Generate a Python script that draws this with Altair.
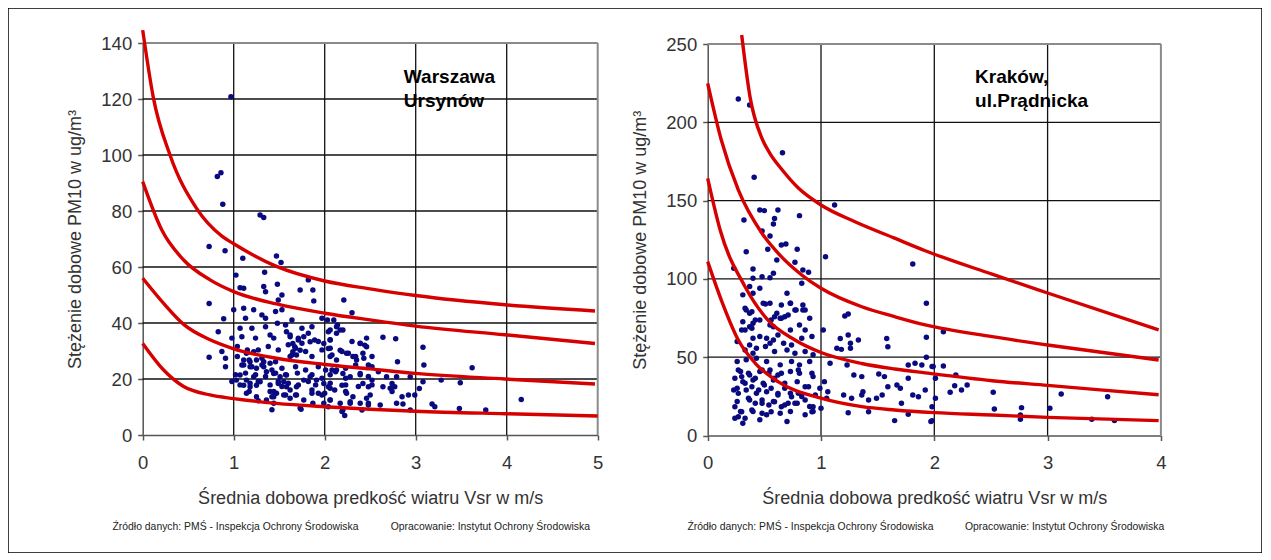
import altair as alt
import pandas as pd

# ---------------- data: Warszawa Ursynów ----------------
waw_points = [
    (0.97, 120.8), (0.82, 92.3), (0.86, 93.7), (0.88, 82.4), (1.29, 78.6), (1.33, 77.7),
    (0.73, 67.3), (0.905, 65.8), (1.10, 63.1), (1.47, 63.9), (1.52, 61.6), (1.025, 57.1),
    (1.34, 58.1), (1.82, 55.4), (1.48, 53.8), (2.3, 43.7), (0.73, 47.0), (0.73, 27.8),
    (1.07, 52.6), (1.11, 52.4), (1.33, 53.0), (1.35, 51.2), (1.49, 48.2), (1.53, 50.0),
    (1.73, 51.8), (1.87, 51.8), (1.88, 47.9), (2.21, 48.2),
    (1.0, 44.7), (1.11, 45.3), (1.22, 44.7), (1.31, 42.9), (1.13, 41.7), (0.89, 41.5),
    (1.35, 41.7), (1.46, 44.1), (1.53, 44.7), (1.64, 41.1), (1.97, 41.7), (2.03, 41.1),
    (2.14, 39.3), (2.17, 37.5),
    (0.83, 36.9), (1.07, 38.1), (1.2, 38.1), (1.35, 38.7), (1.48, 39.9), (1.57, 39.3),
    (1.75, 38.1), (1.86, 38.7), (2.04, 36.9), (1.09, 35.1), (0.98, 34.6), (1.24, 34.6),
    (1.4, 35.7), (1.44, 34.6), (1.62, 35.7), (1.71, 34.6), (1.82, 36.3), (1.93, 33.4),
    (2.06, 34.0), (2.3, 33.4), (2.39, 32.8), (2.46, 34.6),
    (0.87, 29.8), (1.04, 31.6), (1.15, 30.4), (1.27, 30.4), (1.38, 31.6), (1.49, 30.4),
    (1.6, 32.2), (1.68, 31.0), (1.75, 32.8), (1.64, 28.6), (1.79, 29.8), (1.86, 28.0),
    (1.97, 30.4), (2.06, 31.0), (2.08, 28.6), (2.19, 29.8), (2.26, 29.2), (2.34, 28.0),
    (1.04, 28.0), (1.17, 26.8), (1.31, 27.4), (1.46, 26.2), (0.91, 27.4), (2.52, 28.0),
    (2.48, 25.0),
    (1.09, 25.0), (1.2, 24.4), (1.31, 25.0), (1.42, 23.2), (1.53, 23.8), (1.68, 24.4),
    (1.79, 23.2), (1.93, 24.4), (2.01, 23.2), (2.12, 22.6), (2.23, 23.8), (2.34, 25.0),
    (0.91, 24.4), (1.02, 21.5), (1.13, 22.1), (1.24, 21.5), (1.35, 20.9), (1.46, 22.1),
    (1.57, 21.5), (1.7, 22.1), (1.86, 21.5), (1.97, 20.3), (2.06, 21.5), (2.23, 20.3),
    (2.39, 21.5), (2.48, 20.9), (2.59, 22.6), (0.98, 19.1),
    (1.07, 17.9), (1.18, 18.5), (1.27, 19.1), (1.4, 17.9), (1.49, 19.1), (1.53, 17.3),
    (1.6, 18.5), (1.71, 17.9), (1.82, 19.1), (1.9, 17.9), (2.06, 18.5), (2.23, 17.9),
    (2.37, 17.3), (2.52, 17.9), (1.17, 15.5), (1.44, 15.5), (1.57, 14.3), (1.68, 14.3),
    (1.86, 14.9), (1.97, 14.3), (2.06, 12.5), (2.23, 15.5), (2.5, 14.3), (1.42, 13.7),
    (1.27, 12.2), (1.44, 11.3), (1.73, 9.6), (2.04, 10.1), (2.28, 11.9), (2.19, 8.4),
    (2.48, 10.7), (1.42, 9.0), (1.74, 9.2), (2.22, 7.0),
    (2.44, 32.1), (2.64, 34.9), (2.78, 34.4), (2.43, 27.4), (2.52, 24.4), (2.8, 26.2),
    (3.08, 31.3), (3.09, 25.0), (2.52, 19.6), (2.68, 20.8), (2.79, 20.8), (2.64, 17.2),
    (2.72, 16.7), (2.74, 18.4), (2.77, 17.2), (2.74, 15.5), (2.48, 11.3), (2.61, 10.7),
    (2.79, 11.3), (2.86, 11.1), (2.85, 13.7), (2.92, 14.3), (2.99, 14.3), (2.94, 8.9),
    (2.41, 8.9), (3.04, 16.6), (3.08, 19.0), (3.28, 19.6), (3.49, 18.7), (3.62, 24.0),
    (3.18, 11.1), (3.21, 10.1), (3.48, 9.5), (3.77, 8.9), (4.16, 12.7), (2.94, 20.8),
    (1.14, 29.2), (1.22, 29.7), (1.11, 26.8), (1.18, 26.2), (1.25, 26.8), (1.33, 26.2),
    (1.4, 25.6), (1.11, 25.0), (1.18, 24.4), (1.25, 23.8), (1.33, 24.4), (1.36, 22.6),
    (1.44, 22.0), (1.51, 20.8), (1.58, 21.4), (1.55, 19.0), (1.49, 18.4), (1.58, 17.2),
    (1.62, 16.1), (1.69, 17.2), (1.77, 19.6), (1.84, 20.8), (1.91, 19.6), (1.99, 18.4),
    (2.04, 17.2), (1.86, 16.1), (1.93, 14.9), (2.0, 14.9), (2.06, 16.7), (2.11, 16.1),
    (2.19, 17.8), (2.24, 14.9), (2.31, 13.7), (2.39, 11.3), (2.46, 13.1), (2.28, 11.3),
    (2.2, 8.9), (2.17, 11.3), (2.06, 12.5), (1.99, 11.3), (1.87, 11.3), (1.77, 12.5),
    (1.69, 14.3), (1.62, 13.1), (1.55, 14.3), (1.47, 14.9), (1.4, 15.5), (1.44, 13.7),
    (1.36, 12.5), (1.25, 13.7), (1.18, 17.2), (1.11, 17.8), (1.03, 19.6), (1.07, 21.4),
    (1.14, 19.6), (1.22, 20.8), (1.29, 19.0), (1.14, 14.9), (1.25, 17.8),
    (2.06, 28.0), (2.13, 26.8), (2.17, 30.3), (2.24, 29.2), (2.31, 28.0), (2.35, 26.8),
    (2.42, 29.2), (2.46, 31.5), (2.39, 32.7), (2.06, 37.5), (2.13, 36.3), (2.2, 37.5),
    (2.1, 41.1), (2.13, 38.7), (2.06, 33.9), (1.99, 32.7), (2.04, 30.9), (2.08, 23.2),
    (2.13, 23.2), (2.2, 22.0), (2.28, 20.8), (2.39, 22.0), (2.42, 18.4), (2.48, 17.2),
    (1.58, 36.9), (1.62, 35.1), (1.65, 32.7), (1.71, 33.9), (1.77, 35.1), (1.84, 33.3),
    (1.89, 33.9), (1.67, 31.5), (1.73, 30.3), (1.65, 29.7), (1.62, 28.0), (1.69, 28.6),
]

waw_curve_x = {
    "A": [0, 0.117, 0.30, 0.59, 0.87, 1.0, 1.47, 2.0, 2.5, 3.0, 3.98, 4.97],
    "B": [0, 0.21, 0.45, 0.74, 1.0, 1.47, 2.0, 2.5, 3.0, 3.98, 4.97],
    "C": [0, 0.23, 0.45, 0.74, 1.0, 1.47, 2.0, 2.5, 3.0, 3.98, 4.97],
    "D": [0, 0.23, 0.45, 0.74, 1.0, 1.47, 2.0, 2.5, 3.0, 3.98, 5.0],
}
waw_curve_y = {
    "A": [144.6, 120.5, 100.0, 81.0, 71.0, 68.3, 60.2, 55.0, 52.2, 49.8, 46.5, 44.3],
    "B": [90.5, 73.2, 62.5, 55.4, 51.2, 46.8, 43.5, 41.1, 38.9, 35.8, 32.7],
    "C": [56.0, 47.0, 39.5, 34.0, 30.8, 27.4, 25.2, 23.6, 22.0, 20.0, 18.2],
    "D": [32.7, 23.2, 17.3, 14.3, 13.0, 11.3, 10.1, 9.2, 8.5, 7.6, 6.8],
}
waw_xticks = [0, 1, 2, 3, 4, 5]
waw_yticks = [0, 20, 40, 60, 80, 100, 120, 140]

# ---------------- data: Kraków, ul. Prądnicka ----------------
krk_points = [
    (0.27, 214.9), (0.37, 211.0), (0.66, 180.6), (0.41, 164.9), (1.12, 147.2), (0.46, 144.0),
    (0.5, 143.6), (0.62, 144.0), (0.32, 137.6), (0.59, 138.5), (0.58, 135.1), (0.81, 140.4),
    (0.48, 130.6), (0.55, 127.4),
    (0.34, 117.4), (0.65, 121.6), (0.69, 122.3), (0.53, 119.0), (0.79, 119.0), (0.61, 112.0),
    (0.77, 110.6), (1.04, 114.2), (1.81, 109.5), (1.58, 62.0), (1.59, 56.7), (1.93, 84.4),
    (1.93, 62.7), (1.93, 49.9), (1.83, 46.1), (1.77, 45.0), (1.89, 45.0), (1.98, 44.0),
    (1.36, 37.6), (1.51, 39.3), (1.56, 37.6), (1.59, 31.2), (1.7, 30.1), (1.67, 32.3),
    (1.77, 36.5), (1.86, 24.8), (1.81, 25.9), (1.92, 29.1), (1.98, 18.4), (1.27, 23.8),
    (1.37, 28.0), (1.36, 25.9), (1.42, 22.7), (1.49, 23.8), (1.54, 25.9), (1.42, 15.2),
    (1.71, 20.6), (1.77, 13.5), (1.65, 9.5), (1.98, 9.5), (1.29, 38.7), (1.17, 62.0),
    (1.24, 64.2), (1.33, 61.0), (1.26, 58.9), (1.14, 55.7), (1.18, 55.0), (1.26, 55.7),
    (1.24, 77.6), (1.21, 76.3), (1.23, 45.0), (1.2, 25.9), (1.24, 14.6),
    (2.08, 66.3), (1.99, 44.0), (2.08, 44.4), (2.01, 36.5), (2.19, 38.7), (2.14, 27.6),
    (2.18, 31.8), (2.24, 29.1), (2.29, 32.3), (2.01, 23.8), (1.97, 8.9), (2.52, 27.6),
    (2.53, 16.9), (2.77, 17.8), (2.76, 13.1), (2.76, 10.3), (3.02, 17.4), (3.12, 26.5),
    (3.53, 24.8), (3.39, 10.4), (3.59, 9.5),
    (0.23, 106.8), (0.4, 106.3), (0.58, 103.6), (0.84, 105.7), (0.89, 104.2), (0.83, 97.2),
    (0.4, 100.4), (0.48, 101.4), (0.55, 100.8), (0.37, 95.1), (0.46, 94.0), (0.31, 89.8),
    (0.4, 90.8), (0.7, 90.8), (0.49, 84.4), (0.55, 84.4), (0.65, 83.4), (0.73, 84.4),
    (0.84, 83.4), (0.78, 80.2), (0.84, 80.2), (0.33, 81.2), (0.37, 78.1), (0.61, 78.1),
    (0.64, 74.9), (0.68, 75.9), (0.9, 74.9), (0.56, 73.8), (0.46, 73.8), (0.31, 72.7),
    (0.4, 71.7), (0.3, 67.4), (0.39, 68.5), (0.58, 69.5), (0.73, 67.4), (0.81, 70.6),
    (0.86, 67.4), (1.02, 67.4), (0.4, 62.1), (0.46, 63.2), (0.52, 62.1), (0.58, 61.0),
    (0.62, 64.2), (0.67, 58.9), (0.74, 57.8), (0.83, 62.1), (0.92, 63.2), (0.37, 57.8),
    (0.43, 55.7), (0.51, 56.8), (0.55, 58.9), (0.33, 54.6), (0.26, 60.0), (0.59, 53.6),
    (0.7, 54.6), (0.77, 52.5), (0.86, 53.6), (0.93, 51.5), (0.4, 52.5), (0.26, 47.2),
    (0.34, 48.3), (0.43, 49.3), (0.52, 47.2), (0.64, 45.1), (0.74, 47.2), (0.81, 45.1),
    (0.9, 47.2), (1.08, 46.1), (0.29, 40.8), (0.37, 38.7), (0.46, 40.8), (0.55, 41.9),
    (0.62, 38.7), (0.73, 40.8), (0.81, 39.7), (0.93, 37.6), (1.03, 34.4), (0.24, 36.6),
    (0.31, 34.4), (0.4, 35.5), (0.49, 33.4), (0.58, 35.5), (0.68, 33.4), (0.79, 34.4),
    (0.89, 31.2), (0.99, 30.2), (1.06, 28.0), (0.23, 29.1), (0.34, 29.1), (0.43, 27.0),
    (0.52, 28.0), (0.62, 25.9), (0.73, 27.0), (0.83, 24.9), (0.95, 25.9), (1.05, 23.8),
    (0.26, 21.7), (0.37, 22.7), (0.48, 20.6), (0.58, 21.7), (0.68, 19.5), (0.79, 20.6),
    (0.9, 18.5), (1.0, 17.4), (0.29, 15.3), (0.4, 15.3), (0.52, 13.2), (0.64, 14.2),
    (0.73, 15.3), (0.86, 13.2), (0.93, 15.3), (0.24, 11.0), (0.31, 7.8), (0.46, 10.0),
    (0.7, 8.9),
    (0.51, 84.0), (0.73, 84.4), (0.86, 80.1), (0.77, 80.1), (0.71, 76.9), (0.65, 74.8),
    (0.59, 75.9), (0.55, 70.6), (0.42, 73.8), (0.39, 79.1), (0.34, 80.1), (0.33, 67.4),
    (0.37, 69.5), (0.27, 41.8), (0.3, 37.6), (0.36, 39.7), (0.42, 36.5), (0.48, 41.8),
    (0.54, 39.7), (0.59, 36.5), (0.65, 39.7), (0.33, 33.3), (0.39, 31.2), (0.45, 29.1),
    (0.5, 32.3), (0.56, 30.1), (0.62, 26.9), (0.68, 30.1), (0.74, 24.8), (0.8, 26.9),
    (0.27, 26.9), (0.36, 23.8), (0.42, 20.6), (0.48, 22.7), (0.54, 19.5), (0.59, 21.6),
    (0.65, 18.4), (0.71, 20.6), (0.24, 18.4), (0.3, 15.2), (0.39, 16.3), (0.48, 14.2),
    (0.56, 15.2), (0.27, 12.0), (0.33, 11.0), (0.26, 30.1), (0.92, 15.2), (0.93, 18.4),
    (0.86, 22.7), (0.77, 20.6), (0.86, 31.2), (0.92, 39.7), (0.8, 41.8),
]

krk_curve_x = {
    "A": [0.30, 0.373, 0.477, 0.55, 0.653, 0.8, 1.0, 1.3, 1.65, 1.92, 2.51, 3.0, 3.98],
    "B": [0, 0.12, 0.27, 0.48, 0.65, 0.83, 1.0, 1.36, 1.65, 1.92, 2.51, 3.0, 3.98],
    "C": [0, 0.11, 0.33, 0.53, 0.77, 1.0, 1.36, 1.65, 1.92, 2.51, 3.0, 3.98],
    "D": [0, 0.12, 0.27, 0.42, 0.62, 1.0, 1.36, 1.65, 2.0, 2.51, 3.0, 3.98],
}
krk_curve_y = {
    "A": [255.7, 216.4, 190.0, 180.0, 170.0, 158.0, 147.2, 136.5, 126.0, 118.0, 103.0, 91.0, 67.4],
    "B": [224.9, 188.7, 156.8, 129.0, 114.2, 102.5, 94.0, 82.2, 75.9, 70.6, 63.1, 57.8, 48.2],
    "C": [164.2, 131.2, 95.0, 73.8, 61.0, 53.0, 46.0, 42.5, 40.0, 35.0, 32.0, 26.0],
    "D": [111.0, 86.5, 61.0, 46.1, 34.4, 23.8, 18.4, 16.3, 14.6, 13.1, 11.6, 9.5],
}
krk_xticks = [0, 1, 2, 3, 4]
krk_yticks = [0, 50, 100, 150, 200, 250]

x_title = "Średnia dobowa predkość wiatru Vsr w m/s"
y_title = "Stężenie dobowe PM10 w ug/m³"
source_left = "Źródło danych: PMŚ - Inspekcja Ochrony Środowiska"
source_right = "Opracowanie: Instytut Ochrony Środowiska"
waw_label = "Warszawa\nUrsynów"
krk_label = "Kraków,\nul.Prądnicka"

# ---------------- layout (pixels inside the single framed view) ----------------
W, H = 1254, 545
FONT = "Liberation Sans"


def panel(points, cx, cy, xticks, yticks, xr, yr, label, label_pos, foot_pos):
    xmax, ymax = xticks[-1], yticks[-1]
    sx = alt.Scale(domain=[0, xmax], range=xr, nice=False, zero=False)
    sy = alt.Scale(domain=[0, ymax], range=yr, nice=False, zero=False)
    ax = alt.Axis(
        orient="bottom", offset=yr[0] - H, values=xticks, grid=False,
        domainColor="#555", domainWidth=1.5, tickColor="#555", tickSize=5, tickWidth=1.5,
        labelFont=FONT, labelFontSize=18.5, labelColor="#333", labelPadding=13,
        labelFlush=False, labelOverlap=False,
        title=x_title, titleFont=FONT, titleFontSize=18, titleFontWeight="normal",
        titleColor="#333", titleX=(xr[0] + xr[1]) / 2, titleY=68,
        titleBaseline="alphabetic", titleAlign="center",
    )
    ay = alt.Axis(
        orient="left", offset=-xr[0], values=yticks, grid=False,
        domainColor="#555", domainWidth=1.5, tickColor="#555", tickSize=5, tickWidth=1.5,
        labelFont=FONT, labelFontSize=18.5, labelColor="#333", labelPadding=6,
        labelFlush=False, labelOverlap=False,
        title=y_title, titleFont=FONT, titleFontSize=18, titleFontWeight="normal",
        titleColor="#333", titleX=-67, titleY=(yr[0] + yr[1]) / 2, titleAngle=270,
        titleBaseline="middle", titleAlign="center",
    )
    X = lambda f="x": alt.X(f"{f}:Q", scale=sx, axis=ax)
    Y = lambda f="y": alt.Y(f"{f}:Q", scale=sy, axis=ay)

    grid = pd.DataFrame(
        [{"x": t, "x2": t, "y": 0, "y2": ymax} for t in xticks[1:-1]]
        + [{"x": 0, "x2": xmax, "y": t, "y2": t} for t in yticks[1:-1]]
    )
    frame = pd.DataFrame([
        {"x": 0, "x2": xmax, "y": ymax, "y2": ymax},
        {"x": xmax, "x2": xmax, "y": 0, "y2": ymax},
    ])
    pts = pd.DataFrame(points, columns=["x", "y"])
    curves = pd.DataFrame(
        [{"curve": k, "x": xv, "y": yv}
         for k in cx for xv, yv in zip(cx[k], cy[k])]
    )
    lab = pd.DataFrame([{"x": label_pos[0], "y": label_pos[1], "t": label}])
    foot = pd.DataFrame([
        {"x": foot_pos[0], "y": foot_pos[2], "t": source_left},
        {"x": foot_pos[1], "y": foot_pos[2], "t": source_right},
    ])

    l_grid = alt.Chart(grid).mark_rule(color="#111", strokeWidth=1.3).encode(
        x=X(), y=Y(), x2="x2:Q", y2="y2:Q")
    l_frame = alt.Chart(frame).mark_rule(color="#8a8a8a", strokeWidth=2).encode(
        x=X(), y=Y(), x2="x2:Q", y2="y2:Q")
    l_pts = alt.Chart(pts).mark_circle(size=30, color="#0a0a80", opacity=1).encode(
        x=X(), y=Y())
    l_cur = alt.Chart(curves).mark_line(
        color="#d60000", strokeWidth=3.4, interpolate="monotone").encode(
        x=X(), y=Y(), detail="curve:N")
    l_lab = alt.Chart(lab).mark_text(
        align="left", baseline="alphabetic", font=FONT, fontSize=19, fontWeight="bold",
        color="#000", lineBreak="\n", lineHeight=24).encode(x=X(), y=Y(), text="t:N")
    l_foot = alt.Chart(foot).mark_text(
        align="center", baseline="middle", font=FONT, fontSize=10.4, color="#222").encode(
        x=X(), y=Y(), text="t:N")
    return alt.layer(l_grid, l_frame, l_pts, l_cur, l_lab, l_foot)


left = panel(waw_points, waw_curve_x, waw_curve_y, waw_xticks, waw_yticks,
             [134.7, 589.7], [427, 35], waw_label, (2.87, 125.7), (1.02, 3.82, -32.9))
right = panel(krk_points, krk_curve_x, krk_curve_y, krk_xticks, krk_yticks,
              [699.7, 1152.9], [427.5, 36], krk_label, (2.36, 225.0), (0.907, 3.15, -58.4))

chart = (
    alt.layer(left, right)
    .resolve_scale(x="independent", y="independent")
    .resolve_axis(x="independent", y="independent")
    .properties(width=W, height=H, padding=0, background="white")
    .configure_view(stroke="#000", strokeWidth=1.5)
)

chart.save("out.html", embed_options={"renderer": "svg", "actions": False})
